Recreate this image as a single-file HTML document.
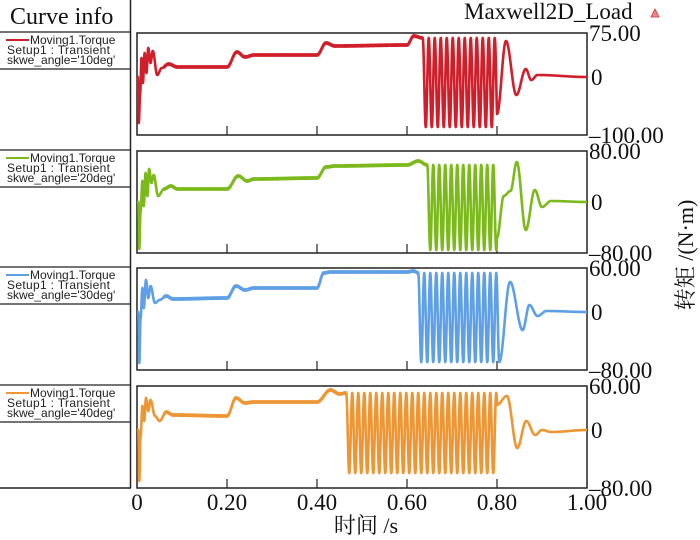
<!DOCTYPE html>
<html><head><meta charset="utf-8"><style>
html,body{margin:0;padding:0;background:#fff;width:700px;height:540px;overflow:hidden}
svg{display:block}
.s{font-family:"Liberation Serif","Noto Serif CJK SC",serif;fill:#111}
.l{font-family:"Liberation Sans",sans-serif;font-size:12px;fill:#222}
</style></head><body>
<svg id="c" width="700" height="540" xmlns="http://www.w3.org/2000/svg">
<line x1="130.5" y1="0" x2="130.5" y2="488" stroke="#222" stroke-width="1.5"/>
<line x1="0" y1="488" x2="131" y2="488" stroke="#222" stroke-width="1.5"/>
<text class="s" x="10" y="24" font-size="24">Curve info</text>
<text class="s" x="464" y="19" font-size="23">Maxwell2D_Load</text>
<polygon points="651,17 655,9 659,17" fill="#e88" stroke="#c33" stroke-width="0.8"/>
<text class="s" x="366" y="533" font-size="22" text-anchor="middle">时间 /s</text>
<text class="s" font-size="22" text-anchor="middle" transform="translate(693,255) rotate(-90)">转矩 /(N·m)</text>
<g id="g"></g>
</svg>
<script>
var X0=137,X1=587,W=450,H=102;
var panels=[
{top:33,col:"#d01f2b",lab:["75.00","0","–100.00"],z:44,name:"10deg",
pre:[[0,44],[0.002,44],[0.004,90],[0.007,60],[0.01,25],[0.013,50],[0.017,20],[0.021,40],[0.025,15],[0.03,30],[0.035,18],[0.045,42],[0.055,35],[0.07,31],[0.09,34],[0.2,34],[0.222,19],[0.24,24],[0.26,22],[0.4,22],[0.42,10],[0.44,13],[0.6,12],[0.615,3],[0.635,5]],
os:[0.635,0.80,5,94],post:[[0.82,8],[0.843,62],[0.864,36],[0.876,47],[0.89,42],[1,44]]},
{top:151,col:"#7cb91b",lab:["80.00","0","–80.00"],z:51,name:"20deg",
pre:[[0,51],[0.003,51],[0.005,98],[0.008,60],[0.012,30],[0.015,55],[0.019,22],[0.023,45],[0.027,18],[0.032,32],[0.037,24],[0.047,45],[0.06,38],[0.075,35],[0.09,38],[0.2,38],[0.225,25],[0.245,30],[0.26,28],[0.4,27],[0.42,16],[0.44,15],[0.6,14],[0.625,10],[0.645,14]],
os:[0.645,0.80,14,99],post:[[0.815,45],[0.83,40],[0.844,11],[0.864,79],[0.884,39],[0.9,56],[0.92,50],[1,51]]},
{top:268,col:"#5e9fe6",lab:["60.00","0","–80.00"],z:44,name:"30deg",
pre:[[0,44],[0.003,44],[0.005,95],[0.008,50],[0.012,20],[0.015,40],[0.02,12],[0.025,30],[0.03,18],[0.04,35],[0.05,32],[0.065,28],[0.08,31],[0.2,30],[0.22,18],[0.24,22],[0.26,20],[0.4,20],[0.415,5],[0.43,4],[0.6,4],[0.615,3],[0.625,5]],
os:[0.625,0.805,5,94],post:[[0.829,14],[0.857,62],[0.872,37],[0.89,48],[0.91,43],[1,44]]},
{top:386,col:"#ee9534",lab:["60.00","0","–80.00"],z:44,name:"40deg",
pre:[[0,44],[0.003,44],[0.005,95],[0.008,50],[0.012,20],[0.016,35],[0.02,12],[0.025,25],[0.03,14],[0.04,30],[0.05,35],[0.065,26],[0.08,29],[0.2,30],[0.22,12],[0.24,17],[0.26,16],[0.4,16],[0.43,4],[0.45,8],[0.465,7]],
os:[0.465,0.80,7,87],post:[[0.822,10],[0.845,62],[0.865,35],[0.885,49],[0.9,44],[0.92,46],[1,44]]}
];
function interp(pts,t){for(var i=0;i<pts.length-1;i++){var a=pts[i],b=pts[i+1];if(t>=a[0]&&t<=b[0]){var u=(t-a[0])/(b[0]-a[0]);u=(1-Math.cos(Math.PI*u))/2;return a[1]+(b[1]-a[1])*u;}}return pts[pts.length-1][1];}
var g=document.getElementById("g"),h="";
panels.forEach(function(p,k){
 var T=p.top,f=75,os=p.os,mid=(os[2]+os[3])/2,amp=(os[3]-os[2])/2;
 function oscv(t){return mid-amp*Math.cos(2*Math.PI*f*(t-os[0]));}
 var post=[[os[1],oscv(os[1])]].concat(p.post);
 var d="";
 for(var i=0;i<=3000;i++){var t=i/3000,v;
  if(t<os[0])v=interp(p.pre,t);else if(t<=os[1])v=oscv(t);else v=interp(post,t);
  if(t>0.06&&t<os[0])v+=(i%4<2?0.6:-0.6);
  v=Math.max(1,Math.min(H-1,v));
  d+=(i?"L":"M")+(X0+t*W).toFixed(2)+" "+(T+v).toFixed(2);}
 h+='<rect x="'+X0+'" y="'+T+'" width="'+W+'" height="'+H+'" fill="none" stroke="#222" stroke-width="1.5"/>';
 for(var j=1;j<5;j++){var x=X0+j*90;h+='<line x1="'+x+'" y1="'+(T+H)+'" x2="'+x+'" y2="'+(T+H-9)+'" stroke="#222" stroke-width="1.2"/>';}
 h+='<line x1="'+(X1-12)+'" y1="'+(T+p.z)+'" x2="'+X1+'" y2="'+(T+p.z)+'" stroke="#222" stroke-width="1.5"/>';
 h+='<path d="'+d+'" fill="none" stroke="'+p.col+'" stroke-width="2.6" stroke-linejoin="round"/>';
 h+='<text class="s" font-size="23" x="589" y="'+(T+8)+'">'+p.lab[0]+'</text>';
 h+='<text class="s" font-size="23" x="591" y="'+(T+p.z+8)+'">'+p.lab[1]+'</text>';
 h+='<text class="s" font-size="23" x="589" y="'+(T+H+8)+'">'+p.lab[2]+'</text>';
 var ly=T-1;
 h+='<line x1="0" y1="'+ly+'" x2="130" y2="'+ly+'" stroke="#222" stroke-width="1.3"/>';
 h+='<line x1="0" y1="'+(ly+37)+'" x2="130" y2="'+(ly+37)+'" stroke="#222" stroke-width="1.3"/>';
 h+='<line x1="6" y1="'+(ly+8)+'" x2="29" y2="'+(ly+8)+'" stroke="'+p.col+'" stroke-width="2"/>';
 h+='<text class="l" x="30" y="'+(ly+12)+'">Moving1.Torque</text>';
 h+='<text class="l" x="7" y="'+(ly+22)+'" textLength="103">Setup1 : Transient</text>';
 h+='<text class="l" x="7" y="'+(ly+32)+'">skwe_angle=\''+p.name+'\'</text>';
});
var xl=["0","0.20","0.40","0.60","0.80","1.00"];
xl.forEach(function(s,i){h+='<text class="s" font-size="23" text-anchor="middle" x="'+(X0+i*90)+'" y="510">'+s+'</text>';});
g.innerHTML=h;
</script>
</body></html>
